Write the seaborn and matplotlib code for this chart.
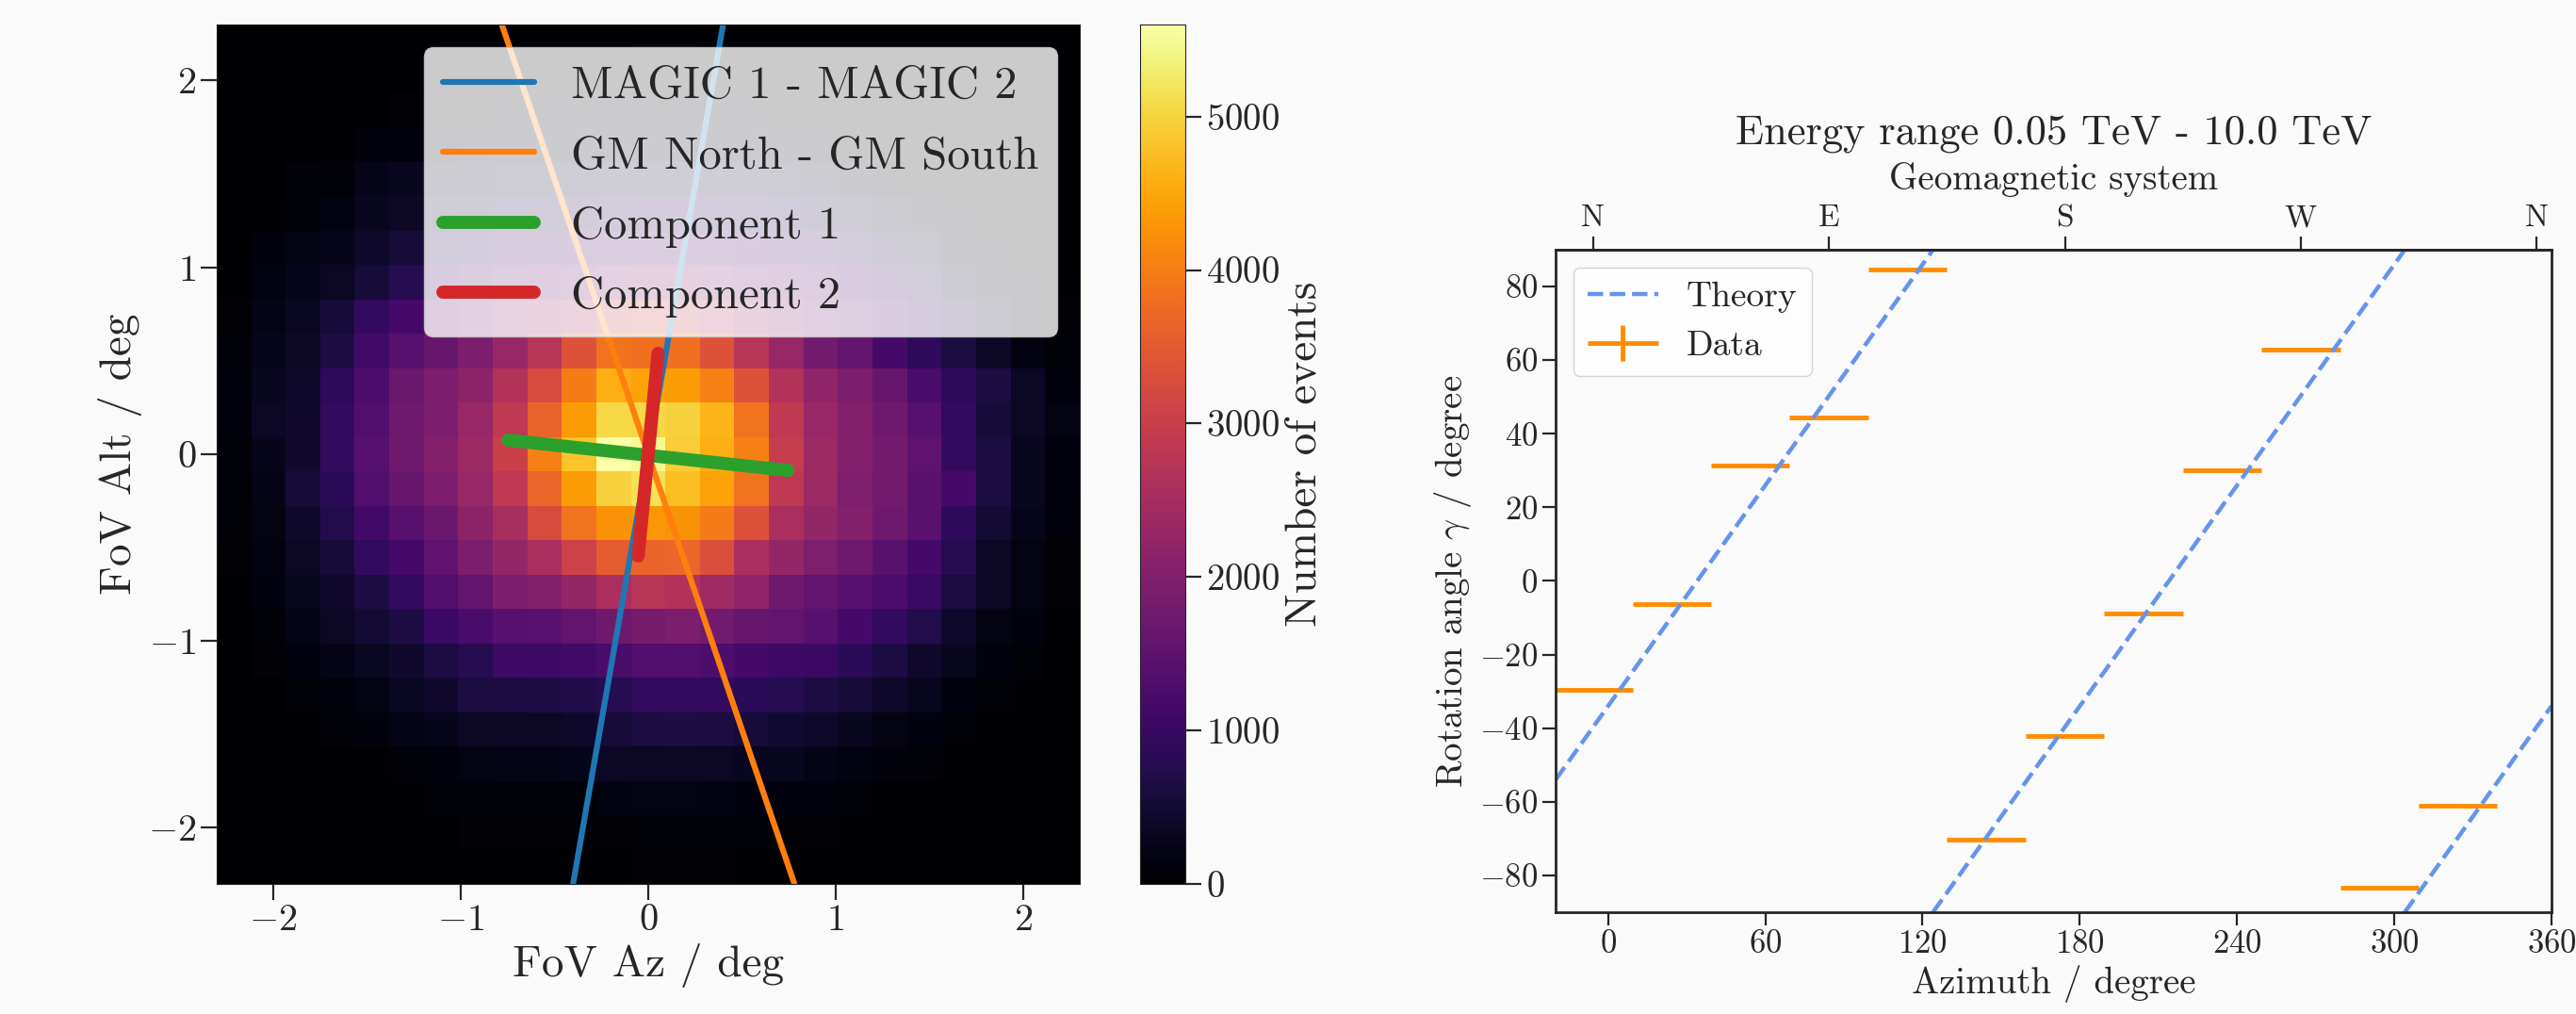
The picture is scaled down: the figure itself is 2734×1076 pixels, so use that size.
import numpy as np
import pandas as pd
import matplotlib
matplotlib.use("Agg")
import matplotlib.pyplot as plt
import seaborn as sns
from matplotlib.container import ErrorbarContainer
from matplotlib.legend_handler import HandlerErrorbar

# ==============================
# Data
# ==============================
# 25 x 25 histogram over FoV Az / Alt in [-2.3, 2.3] deg
fov_edges = list(np.linspace(-2.3, 2.3, 26))

# counts per cell, rows from top (Alt = +2.3) to bottom (Alt = -2.3)
event_counts = [
    [0, 0, 0, 0, 0, 0, 0, 5, 10, 15, 20, 20, 30, 30, 20, 15, 10, 5, 0, 0, 0, 0, 0, 0, 0],
    [0, 0, 0, 0, 0, 10, 20, 35, 45, 50, 55, 55, 65, 65, 55, 50, 40, 30, 15, 5, 0, 0, 0, 0, 0],
    [0, 0, 0, 5, 15, 55, 85, 85, 110, 110, 110, 140, 140, 140, 140, 110, 85, 85, 45, 20, 10, 0, 0, 0, 0],
    [0, 0, 10, 30, 110, 140, 170, 195, 225, 225, 250, 280, 280, 280, 280, 250, 225, 170, 110, 85, 30, 10, 0, 0, 0],
    [0, 10, 85, 85, 250, 310, 365, 390, 420, 450, 475, 530, 560, 560, 530, 505, 420, 335, 250, 170, 85, 55, 15, 0, 0],
    [5, 30, 85, 170, 310, 390, 505, 615, 700, 730, 785, 840, 950, 950, 895, 840, 730, 615, 505, 365, 225, 140, 55, 15, 5],
    [15, 110, 195, 280, 420, 560, 730, 895, 1065, 1175, 1230, 1345, 1400, 1400, 1345, 1230, 1120, 1010, 840, 615, 420, 250, 140, 55, 15],
    [30, 170, 280, 365, 560, 785, 1120, 1345, 1510, 1625, 1735, 1905, 2015, 2015, 1905, 1735, 1625, 1455, 1230, 950, 670, 390, 195, 110, 40],
    [55, 225, 335, 560, 950, 1175, 1570, 1850, 2130, 2350, 2575, 2910, 3025, 2910, 2630, 2350, 2015, 1735, 1510, 1290, 950, 615, 335, 170, 55],
    [85, 280, 390, 670, 1120, 1400, 1625, 1905, 2295, 2745, 3360, 3865, 3810, 3810, 3360, 2745, 2295, 1790, 1570, 1175, 895, 615, 365, 170, 85],
    [110, 310, 420, 895, 1290, 1680, 1905, 2130, 2690, 3250, 3975, 4590, 4425, 4370, 4030, 3360, 2690, 2185, 1905, 1625, 1230, 895, 615, 365, 140],
    [110, 365, 450, 950, 1345, 1735, 1905, 2295, 2855, 3640, 4370, 5040, 5040, 4985, 4650, 3865, 2855, 2295, 2015, 1735, 1400, 950, 560, 365, 195],
    [85, 280, 450, 950, 1400, 1735, 2015, 2350, 3025, 4030, 4815, 5600, 5490, 4930, 4590, 4030, 2970, 2350, 2015, 1790, 1510, 950, 615, 310, 140],
    [85, 225, 560, 840, 1345, 1625, 1905, 2295, 2855, 3695, 4370, 4985, 5150, 4760, 4425, 3865, 2855, 2350, 1960, 1790, 1455, 1175, 615, 310, 140],
    [85, 195, 420, 730, 1120, 1400, 1680, 2130, 2520, 3250, 3865, 4255, 4310, 4255, 3975, 3360, 2575, 2240, 2015, 1735, 1455, 895, 505, 280, 110],
    [55, 170, 365, 560, 950, 1175, 1510, 1905, 2240, 2575, 3080, 3530, 3640, 3695, 3305, 2575, 2240, 1960, 1735, 1455, 1175, 785, 365, 195, 55],
    [30, 140, 310, 450, 670, 950, 1345, 1570, 1905, 2015, 2240, 2575, 2745, 2690, 2410, 2185, 1735, 1570, 1400, 1290, 1010, 615, 365, 195, 55],
    [15, 85, 225, 365, 505, 670, 1010, 1230, 1400, 1430, 1570, 1735, 1850, 1905, 1790, 1625, 1570, 1400, 1175, 950, 730, 420, 195, 140, 40],
    [10, 55, 140, 225, 335, 450, 645, 785, 1065, 1065, 1120, 1230, 1315, 1345, 1290, 1175, 1065, 1035, 840, 645, 450, 310, 140, 85, 15],
    [5, 15, 85, 110, 195, 335, 450, 615, 645, 670, 700, 785, 925, 950, 950, 840, 785, 670, 560, 420, 310, 140, 85, 30, 10],
    [0, 5, 15, 85, 110, 225, 280, 365, 365, 365, 420, 560, 615, 670, 615, 560, 475, 420, 310, 195, 140, 85, 15, 5, 0],
    [0, 0, 5, 15, 30, 85, 110, 195, 225, 225, 280, 365, 365, 365, 365, 310, 310, 225, 170, 110, 85, 30, 10, 0, 0],
    [0, 0, 0, 5, 10, 30, 85, 85, 85, 85, 85, 170, 195, 195, 170, 140, 140, 110, 85, 30, 15, 5, 0, 0, 0],
    [0, 0, 0, 0, 0, 5, 15, 45, 55, 55, 55, 65, 85, 85, 85, 85, 65, 55, 30, 15, 5, 0, 0, 0, 0],
    [0, 0, 0, 0, 0, 0, 0, 10, 15, 20, 30, 35, 45, 45, 45, 35, 30, 15, 10, 0, 0, 0, 0, 0, 0],
]

# direction lines in the FoV (endpoints, deg)
magic_az = [-0.40, 0.40]
magic_alt = [-2.3, 2.3]
gm_az = [-0.78, 0.78]
gm_alt = [2.3, -2.3]
comp1_az = [-0.745, 0.745]
comp1_alt = [0.075, -0.087]
comp2_az = [0.053, -0.053]
comp2_alt = [0.54, -0.545]

# rotation angle vs azimuth
theory_azimuth = [-20, 124, np.nan, 124, 304, np.nan, 304, 360]
theory_gamma = [-54, 90, np.nan, -90, 90, np.nan, -90, -34]

data_azimuth = [-5.7, 24.3, 54.3, 84.3, 114.3, 144.3, 174.3, 204.3, 234.3, 264.3, 294.3, 324.3]
data_gamma = [-29.5, -6.2, 31.3, 44.3, 84.7, -70.3, -42.0, -8.9, 30.0, 62.8, -83.4, -61.0]
data_azimuth_err = [15] * 12
data_gamma_err = [0] * 12

geo_ticks = [-5.7, 84.3, 174.3, 264.3, 354.3]
geo_labels = ["N", "E", "S", "W", "N"]

# ==============================
# Style
# ==============================
sns.set_style("ticks")
plt.rcParams["font.family"] = "serif"
plt.rcParams["font.serif"] = ["cmr10"]
plt.rcParams["mathtext.fontset"] = "cm"
plt.rcParams["axes.formatter.use_mathtext"] = True
plt.rcParams["axes.unicode_minus"] = True

bg = "#fafafa"
fig = plt.figure(figsize=(27.34, 10.76), dpi=100, facecolor=bg)

# ==============================
# Left: FoV histogram
# ==============================
ax1 = fig.add_axes([0.0841, 0.1283, 0.3350, 0.8476])
cax = fig.add_axes([0.4426, 0.1283, 0.01756, 0.8476])

centers = [(fov_edges[i] + fov_edges[i + 1]) / 2 for i in range(25)]
rows = []
for r, row in enumerate(event_counts):
    for c, n in enumerate(row):
        rows.append({"az": centers[c], "alt": centers[24 - r], "n": n})
hist_df = pd.DataFrame(rows)

sns.histplot(data=hist_df, x="az", y="alt", weights="n", bins=fov_edges,
             cmap="inferno", vmin=0, vmax=5600, thresh=None,
             cbar=True, cbar_ax=cax, ax=ax1)

ax1.plot(magic_az, magic_alt, color="tab:blue", lw=4.5, label="MAGIC 1 - MAGIC 2")
ax1.plot(gm_az, gm_alt, color="tab:orange", lw=4.5, label="GM North - GM South")
ax1.plot(comp1_az, comp1_alt, color="tab:green", lw=10, label="Component 1")
ax1.plot(comp2_az, comp2_alt, color="tab:red", lw=10, label="Component 2")

ax1.set_xlim(-2.3, 2.3)
ax1.set_ylim(-2.3, 2.3)
ax1.set_xlabel("FoV Az / deg", fontsize=34)
ax1.set_ylabel("FoV Alt / deg", fontsize=34)
ax1.tick_params(labelsize=29, length=12, width=1.6)
ax1.legend(loc="upper right", fontsize=35, framealpha=0.8, labelspacing=0.62)

cax.set_ylabel("Number of events", fontsize=34)
cax.tick_params(labelsize=28, length=12, width=1.6)

# ==============================
# Right: rotation angle vs azimuth
# ==============================
ax2 = fig.add_axes([0.6039, 0.1004, 0.3866, 0.6533], facecolor=bg)
data_err = ax2.errorbar(data_azimuth, data_gamma, xerr=data_azimuth_err, yerr=data_gamma_err,
                        ls="none", color="darkorange", elinewidth=3.5, label="Data")
theory_line, = ax2.plot(theory_azimuth, theory_gamma, ls="--", color="cornflowerblue",
                        lw=3.2, label="Theory")

ax2.set_xlim(-20, 360)
ax2.set_ylim(-90, 90)
ax2.set_xticks(range(0, 361, 60))
ax2.set_yticks(range(-80, 81, 20))
ax2.set_xlabel("Azimuth / degree", fontsize=28)
ax2.set_ylabel(r"Rotation angle $\gamma$ / degree", fontsize=28)
ax2.tick_params(labelsize=25, length=10, width=1.6)
for s in ax2.spines.values():
    s.set_linewidth(2)

secax = ax2.secondary_xaxis("top")
secax.set_xticks(geo_ticks, labels=geo_labels)
secax.set_xlabel("Geomagnetic system", fontsize=28, labelpad=12)
secax.tick_params(labelsize=24, length=10, width=1.6)
secax.spines["top"].set_linewidth(2)

ax2.set_title("Energy range 0.05 TeV - 10.0 TeV", fontsize=32, pad=14)
ax2.legend([theory_line, data_err], ["Theory", "Data"], loc="upper left", fontsize=27,
           framealpha=0.8,
           handler_map={ErrorbarContainer: HandlerErrorbar(xerr_size=1.0, yerr_size=0.5)})

fig.savefig("out.png", dpi=100, facecolor=bg)
